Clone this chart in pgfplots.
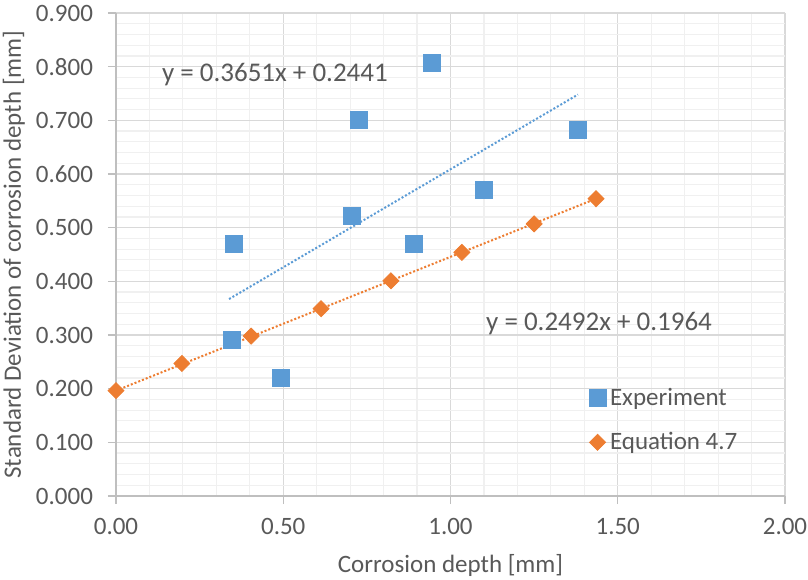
\documentclass[border=0pt]{standalone}
\usepackage{fontspec}
\setmainfont{Carlito}
\usepackage{pgfplots}
\pgfplotsset{compat=1.18}
\definecolor{cblue}{HTML}{5B9BD5}
\definecolor{corange}{HTML}{ED7D31}
\definecolor{txt}{HTML}{595959}
\begin{document}
\begin{tikzpicture}
\useasboundingbox (-58pt,-41.5pt) rectangle (346pt,248pt);
\begin{axis}[
  at={(0,0)}, anchor=south west,
  scale only axis, width=334.5pt, height=241.5pt,
  xmin=0, xmax=2, ymin=0, ymax=0.9,
  xtick distance=0.5, ytick distance=0.1,
  minor x tick num=4, minor y tick num=4,
  grid=both,
  major grid style={draw=black!15, line width=0.6pt},
  minor grid style={draw=black!6, line width=0.6pt},
  axis lines*=left,
  axis line style={draw=black!25, line width=0.7pt},
  tick align=outside, major tick length=4pt, minor tick length=0pt,
  tick style={draw=black!25, line width=0.7pt},
  /pgf/number format/assume math mode=true,
  font=\fontsize{12.5}{15}\selectfont,
  ticklabel style={text=txt, font=\fontsize{12.5}{15}\selectfont},
  xticklabel={\pgfmathprintnumber[fixed, fixed zerofill, precision=2]{\tick}},
  yticklabel={\pgfmathprintnumber[fixed, fixed zerofill, precision=3]{\tick}},
  xticklabel style={anchor=center, yshift=-11pt},
  yticklabel style={anchor=east, xshift=-4pt},
  xlabel={Corrosion depth [mm]},
  ylabel={Standard Deviation of corrosion depth [mm]},
  label style={text=txt},
  xlabel style={at={(axis description cs:0.5,-0.1429)}, anchor=center},
  ylabel style={at={(axis description cs:-0.1525,0.5)}, anchor=center},
  legend style={at={(axis cs:1.395,0.217)}, anchor=north west, draw=none, fill=none,
    font=\fontsize{12.5}{15}\selectfont, text=txt, row sep=8pt},
  legend cell align=left,
  clip=false,
]
\addplot[only marks, mark=square*, mark size=4.25pt, color=cblue] coordinates {
  (0.353,0.470) (0.347,0.291) (0.493,0.220) (0.706,0.522) (0.726,0.700)
  (0.891,0.470) (0.945,0.807) (1.100,0.570) (1.381,0.682)
};
\addlegendentry{Experiment}
\addplot[only marks, mark=diamond*, mark size=4pt, mark options={xscale=1.33}, color=corange] coordinates {
  (0,0.1964) (0.197,0.247) (0.404,0.298) (0.613,0.349) (0.822,0.401)
  (1.034,0.454) (1.250,0.507) (1.435,0.554)
};
\addlegendentry{Equation 4.7}
\addplot[forget plot, cblue, densely dotted, line width=1pt] coordinates {(0.338,0.367) (1.381,0.748)};
\addplot[forget plot, corange, densely dotted, line width=1pt] coordinates {(0,0.1964) (1.435,0.554)};
\node[text=txt, font=\fontsize{13.5}{16}\selectfont] at (axis cs:0.475,0.786) {y = 0.3651x + 0.2441};
\node[text=txt, font=\fontsize{13.5}{16}\selectfont] at (axis cs:1.444,0.322) {y = 0.2492x + 0.1964};
\end{axis}
\end{tikzpicture}
\end{document}
